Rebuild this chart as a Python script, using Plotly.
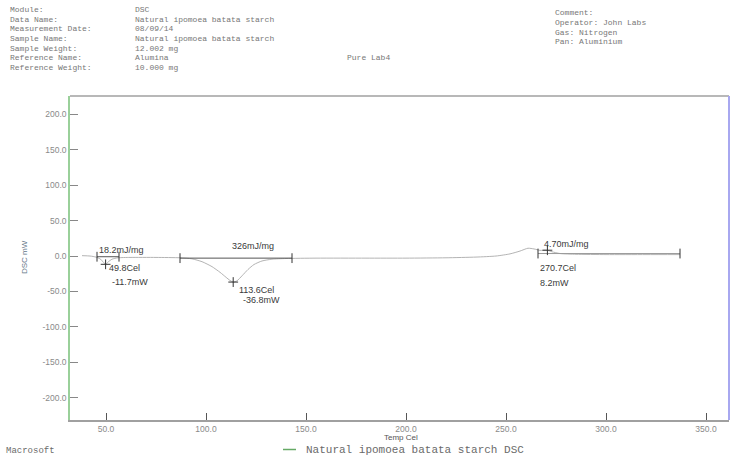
import plotly.graph_objects as go

# DSC run: Natural ipomoea batata starch
temp_c = [38, 42, 45, 47, 48.5, 49.8, 51, 53, 56, 62, 75, 87, 93, 98, 103, 107, 110, 112,
          113.6, 115.5, 118, 121, 124, 128, 133, 140, 155, 180, 200, 220, 235, 245, 252,
          257, 261, 264, 267, 270.7, 273, 277, 285, 300, 320, 337]
heat_flow_mw = [0.5, 0, -1.5, -4, -8, -11.7, -8.5, -4.5, -2.5, -2, -2, -2.5, -4, -8, -15,
                -23, -30, -34.5, -36.8, -35, -28, -19, -12, -7, -4.5, -3.5, -3, -3, -3,
                -2.5, -1.5, 0, 3, 7, 11, 10, 8, 8.2, 6, 3.5, 2.5, 2, 2, 2]

# Peak analysis results
peak_temp = [49.8, 113.6, 270.7]
peak_flow = [-11.7, -36.8, 8.2]
# Integration baselines and enthalpies
base_start = [45.5, 87.0, 266.0]
base_end = [56.5, 143.0, 337.0]
base_level = [-1.0, -3.0, 3.5]
enthalpy = ["18.2mJ/mg", "326mJ/mg", "4.70mJ/mg"]

x_ticks = [50, 100, 150, 200, 250, 300, 350]
y_ticks = [-200, -150, -100, -50, 0, 50, 100, 150, 200]

header_left = [("Module:", "DSC"),
               ("Data Name:", "Natural ipomoea batata starch"),
               ("Measurement Date:", "08/09/14"),
               ("Sample Name:", "Natural ipomoea batata starch"),
               ("Sample Weight:", "12.002 mg"),
               ("Reference Name:", "Alumina"),
               ("Reference Weight:", "10.000 mg")]
header_right = ["Comment:", "Operator: John Labs", "Gas: Nitrogen", "Pan: Aluminium"]
legend_name = "Natural ipomoea batata starch DSC"

W, H = 732, 459
L, R, T, B = 70, 3, 96, 39
pw, ph = W - L - R, H - T - B


def px(x):
    return (x - L) / pw


def py(y):
    return (H - B - y) / ph


fig = go.Figure()
fig.add_trace(go.Scatter(x=temp_c, y=heat_flow_mw, mode="lines",
                         line=dict(color="#b4b4b4", width=1, shape="spline", smoothing=0.6),
                         showlegend=False, hoverinfo="skip"))

base_colors = ["#555555", "#555555", "#9a9a9a"]
for s, e, lv, c in zip(base_start, base_end, base_level, base_colors):
    fig.add_trace(go.Scatter(x=[s, e], y=[lv, lv], mode="lines+markers",
                             line=dict(color=c, width=1),
                             marker=dict(symbol="line-ns", size=7,
                                         line=dict(color="#333333", width=1)),
                             showlegend=False, hoverinfo="skip"))

fig.add_trace(go.Scatter(x=peak_temp, y=peak_flow, mode="markers",
                         marker=dict(symbol="cross-thin", size=7,
                                     line=dict(color="#333333", width=1)),
                         showlegend=False, hoverinfo="skip"))

lab_font = dict(family="Liberation Sans, Arial", size=9, color="#3a3a3a")
# enthalpy labels over baselines
ent_shift = [(0, 7), (50, 12), (4, 10)]
for s, lv, txt, (dx, dy) in zip(base_start, base_level, enthalpy, ent_shift):
    fig.add_annotation(x=s, y=lv, text=txt, showarrow=False, xanchor="left",
                       yanchor="middle", xshift=dx, yshift=dy, font=lab_font)
# peak temperature / heat flow labels
pk_shift = [((1, -4), (4, -18)), ((4, -8), (8, -18)), ((-9, -18), (-9, -33))]
for t, f, (s1, s2) in zip(peak_temp, peak_flow, pk_shift):
    fig.add_annotation(x=t, y=f, text=f"{t:.1f}Cel", showarrow=False, xanchor="left",
                       yanchor="middle", xshift=s1[0], yshift=s1[1], font=lab_font)
    fig.add_annotation(x=t, y=f, text=f"{f:.1f}mW", showarrow=False, xanchor="left",
                       yanchor="middle", xshift=s2[0], yshift=s2[1], font=lab_font)

mono = dict(family="Liberation Mono, Courier New, monospace", size=8, color="#777777")
for i, (k, v) in enumerate(header_left):
    y = 10 + 9.5 * i
    fig.add_annotation(xref="paper", yref="paper", x=px(8), y=py(y), text=k,
                       showarrow=False, xanchor="left", yanchor="middle", font=mono)
    fig.add_annotation(xref="paper", yref="paper", x=px(133), y=py(y), text=v,
                       showarrow=False, xanchor="left", yanchor="middle", font=mono)
for i, k in enumerate(header_right):
    fig.add_annotation(xref="paper", yref="paper", x=px(553), y=py(13 + 9.5 * i), text=k,
                       showarrow=False, xanchor="left", yanchor="middle", font=mono)
fig.add_annotation(xref="paper", yref="paper", x=px(345), y=py(58), text="Pure Lab4",
                   showarrow=False, xanchor="left", yanchor="middle", font=mono)

# axis titles
fig.add_annotation(xref="paper", yref="paper", x=px(401), y=py(437.5), text="Temp Cel",
                   showarrow=False, xanchor="center", yanchor="middle",
                   font=dict(family="Liberation Sans, Arial", size=8, color="#555555"))
fig.add_annotation(xref="paper", yref="paper", x=px(24), y=py(257), text="DSC mW",
                   textangle=-90, showarrow=False, xanchor="center", yanchor="middle",
                   font=dict(family="Liberation Sans, Arial", size=8, color="#667788"))

# legend
fig.add_shape(type="line", xref="paper", yref="paper", x0=px(283), x1=px(296),
              y0=py(449.5), y1=py(449.5), line=dict(color="#66aa66", width=1.5))
fig.add_annotation(xref="paper", yref="paper", x=px(304), y=py(449.5), text=legend_name,
                   showarrow=False, xanchor="left", yanchor="middle",
                   font=dict(family="Liberation Mono, Courier New, monospace", size=11,
                             color="#6a6a6a"))
fig.add_annotation(xref="paper", yref="paper", x=px(4), y=py(451), text="Macrosoft",
                   showarrow=False, xanchor="left", yanchor="middle",
                   font=dict(family="Liberation Mono, Courier New, monospace", size=9,
                             color="#6a6a6a"))

# frame: grey top, blue-violet right
fig.add_shape(type="line", xref="paper", yref="paper", x0=0, x1=1, y0=1, y1=1,
              line=dict(color="#a0a0a0", width=1.5))
fig.add_shape(type="line", xref="paper", yref="paper", x0=1, x1=1, y0=0, y1=1,
              line=dict(color="#a8a8f0", width=2))

tick_font = dict(family="Liberation Sans, Arial", size=8.5, color="#8a8a8a")
fig.update_layout(
    width=W, height=H, margin=dict(l=L, r=R, t=T, b=B),
    paper_bgcolor="white", plot_bgcolor="white", showlegend=False,
    xaxis=dict(range=[32, 361.5], tickvals=x_ticks,
               ticktext=[f"{v:.1f}" for v in x_ticks], ticks="inside", ticklen=7,
               tickcolor="#555555", showline=True, linecolor="#a0a0a0", linewidth=1.5,
               showgrid=False, zeroline=False, tickfont=tick_font),
    yaxis=dict(range=[-231.6, 226], tickvals=y_ticks,
               ticktext=[f"{v:.1f}" for v in y_ticks], ticks="inside", ticklen=8,
               tickcolor="#888888", showline=True, linecolor="#9ad09a", linewidth=1.5,
               showgrid=False, zeroline=False, tickfont=tick_font),
)

fig.write_html("out.html")
